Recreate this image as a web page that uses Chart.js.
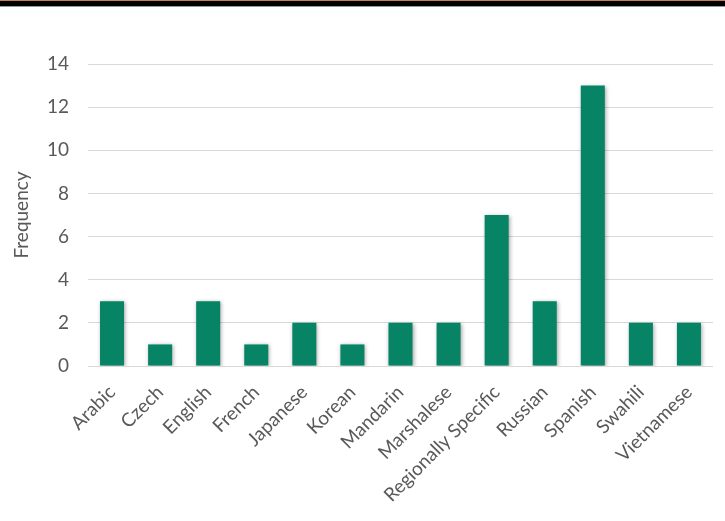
<!DOCTYPE html>
<html>
<head>
<meta charset="utf-8">
<script src="https://cdn.jsdelivr.net/npm/chart.js@4/dist/chart.umd.min.js"></script>
<style>
  html, body { margin: 0; padding: 0; background: #fff; }
  #wrap { position: relative; width: 725px; height: 521px; }
  #band { position: absolute; left: 0; top: 0; width: 725px; height: 7px;
          border-top: 1px solid #c8804f; background: #000; box-sizing: border-box;
          border-bottom: 1px solid #9a9a9a; }
</style>
</head>
<body>
<div id="wrap">
  <canvas id="barChart" width="725" height="521"></canvas>
  <div id="band"></div>
</div>
<script>
// Languages and how often each one came up
var languages = ['Arabic', 'Czech', 'English', 'French', 'Japanese', 'Korean', 'Mandarin',
  'Marshalese', 'Regionally Specific', 'Russian', 'Spanish', 'Swahili', 'Vietnamese'];
var frequency = [3, 1, 3, 1, 2, 1, 2, 2, 7, 3, 13, 2, 2];

var textColor = '#595959';
var gridColor = '#d9d9d9';

// Soft drop shadow behind the bars, like the Excel original
var barShadow = {
  id: 'barShadow',
  beforeDatasetsDraw: function (chart) {
    var ctx = chart.ctx;
    ctx.save();
    ctx.shadowColor = 'rgba(0,0,0,0.35)';
    ctx.shadowBlur = 4;
    ctx.shadowOffsetX = 1;
    ctx.shadowOffsetY = 1;
  },
  afterDatasetsDraw: function (chart) {
    chart.ctx.restore();
  }
};

var canvas = document.getElementById('barChart');
var barChart = new Chart(canvas, {
  type: 'bar',
  data: {
    labels: languages,
    datasets: [{
      label: 'Frequency',
      data: frequency,
      backgroundColor: '#078466',
      borderWidth: 0,
      barPercentage: 0.5,
      categoryPercentage: 1.0
    }]
  },
  options: {
    responsive: false,
    animation: false,
    layout: { padding: { top: 64, left: 10, right: 12, bottom: 0 } },
    plugins: {
      legend: { display: false },
      tooltip: { enabled: false }
    },
    scales: {
      x: {
        grid: { display: false },
        border: { display: false },
        ticks: {
          color: textColor,
          font: { family: 'Lato', size: 19 },
          minRotation: 45,
          maxRotation: 45,
          padding: 7
        },
        afterFit: function (scale) { scale.height = 155; }
      },
      y: {
        min: 0,
        max: 14,
        ticks: {
          stepSize: 2,
          color: textColor,
          font: { family: 'Lato', size: 19 },
          padding: 19
        },
        grid: { color: gridColor, lineWidth: 1, drawTicks: false },
        border: { display: false },
        title: {
          display: true,
          text: 'Frequency',
          color: textColor,
          font: { family: 'Lato', size: 19 },
          padding: 0
        },
        afterFit: function (scale) { scale.width = 78; }
      }
    }
  },
  plugins: [barShadow]
});
</script>
</body>
</html>
